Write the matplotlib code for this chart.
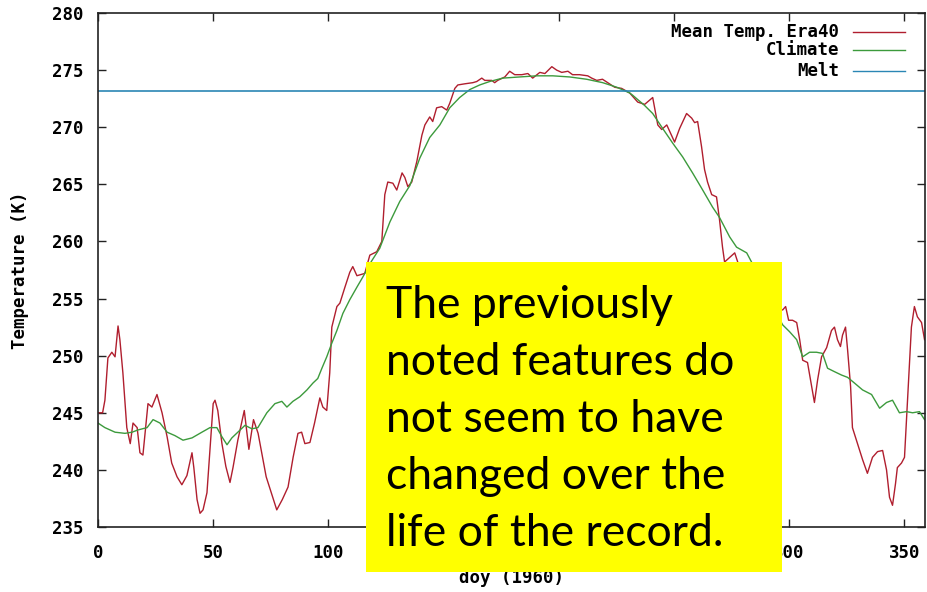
import matplotlib
matplotlib.use("Agg")
import matplotlib.pyplot as plt
from matplotlib.patches import Rectangle
from matplotlib.lines import Line2D

# daily mean temperature (Era40, 1960)
era_doy = [0, 2, 3, 4.3, 6, 7.4, 8.7, 9.5, 10.8, 12.5, 14, 15.2, 17, 18.2, 19.5, 21.7, 23.4, 25.6,
           27.8, 30, 32, 34.3, 36.4, 38.6, 40.8, 41.6, 43, 44.3, 45.6, 47.3, 48.6, 50, 50.8, 52,
           53.8, 55.5, 57.3, 58.6, 60.7, 63.5, 65.5, 67.5, 69.5, 73, 77.6, 80, 82.5, 84.7, 86.8,
           88.4, 89.8, 92, 94, 96.3, 97.6, 99.3, 100.6, 101.5, 103.7, 105, 107.2, 109.3, 110.6,
           112.4, 115.8, 118, 121, 123.2, 124.5, 125.8, 128, 129.7, 132, 133.2, 134.5, 136.2,
           138.4, 140.6, 141.9, 144, 145.3, 147, 149.2, 151.4, 152.7, 154.9, 156.2, 159.2, 162.7,
           164.4, 166.6, 167.9, 170.9, 172.2, 173.5, 176.6, 178.7, 180.9, 184, 186.6, 188.7,
           191.8, 194, 197, 199.1, 201.3, 204, 206, 209, 212.6, 214.3, 216.5, 219, 221.3, 224.3,
           227.3, 230.8, 234.3, 237.3, 240.8, 243, 244.7, 246.9, 250.3, 252.5, 255.5, 257.7, 259,
           260.3, 262, 263.3, 264.6, 266.4, 268.5, 269.8, 271.1, 272, 276.4, 277.7, 282, 287, 292,
           297.2, 298.5, 299.8, 301.5, 303.3, 304.6, 305.9, 308, 309.8, 311, 312.4, 314.1, 316.3,
           318.4, 319.7, 321, 322.3, 323.2, 324.5, 325.4, 326.7, 327.5, 329.7, 331.9, 334, 336.2,
           338.4, 340.6, 342.3, 343.6, 344.9, 346.2, 347, 348.8, 350.1, 351.4, 353.1, 354.4,
           355.7, 357.5, 358.8]
era_temp = [245.0, 245.0, 246.1, 249.8, 250.3, 249.9, 252.6, 251.4, 248.5, 243.7, 242.3, 244.1,
            243.7, 241.5, 241.3, 245.8, 245.5, 246.6, 245.0, 242.9, 240.6, 239.4, 238.7, 239.5,
            241.5, 240.2, 237.4, 236.2, 236.5, 238.0, 241.7, 245.8, 246.1, 245.2, 242.3, 240.3,
            238.9, 240.2, 242.6, 245.2, 241.8, 244.4, 243.2, 239.4, 236.5, 237.4, 238.5, 241.1,
            243.2, 243.3, 242.3, 242.4, 244.1, 246.3, 245.5, 245.2, 248.5, 252.5, 254.3, 254.6,
            256.0, 257.3, 257.8, 257.0, 257.2, 258.8, 259.1, 260.0, 264.1, 265.2, 265.1, 264.5,
            266.0, 265.6, 264.8, 265.2, 267.0, 269.3, 270.2, 270.9, 270.5, 271.7, 271.8, 271.5,
            272.1, 273.4, 273.7, 273.8, 273.9, 274.0, 274.3, 274.1, 274.1, 273.9, 274.1, 274.4,
            274.9, 274.6, 274.6, 274.7, 274.3, 274.8, 274.7, 275.3, 275.0, 274.8, 274.9, 274.6,
            274.6, 274.5, 274.3, 274.1, 274.2, 273.9, 273.5, 273.4, 273.0, 272.2, 272.0, 272.6,
            270.2, 269.8, 270.2, 268.7, 269.9, 271.2, 270.8, 270.4, 270.5, 268.3, 266.3, 265.2,
            264.1, 263.9, 261.9, 259.5, 258.2, 259.0, 258.2, 256.5, 255.0, 254.2, 254.0, 254.3,
            253.1, 253.1, 252.9, 251.4, 249.6, 249.4, 247.3, 245.9, 247.9, 249.9, 250.7, 252.2,
            252.5, 251.4, 250.8, 251.8, 252.5, 250.5, 247.3, 243.7, 242.3, 240.9, 239.7, 241.1,
            241.6, 241.7, 240.0, 237.6, 236.9, 238.8, 240.2, 240.6, 241.1, 246.1, 252.5, 254.3,
            253.4, 252.9, 251.4]

# climatology
clim_doy = [0, 3, 7.4, 11.7, 14.8, 17.4, 21.3, 23.9, 26.9, 30, 33.4, 36.9, 40.8, 45.1, 48.6, 51.6,
            53.8, 56, 58.1, 60.7, 63.8, 66.8, 69.4, 73.3, 76.8, 79.8, 82, 84.6, 87.6, 90.7, 93.3,
            95.4, 97.2, 99.3, 101.5, 103.7, 106.3, 109.3, 112.4, 115, 118.5, 122.3, 126.7, 131,
            135.4, 139.7, 144, 148.4, 152.7, 157, 161.4, 165.7, 170, 175.7, 183, 190.5, 197.4,
            204.8, 212.1, 219.1, 225.2, 230.8, 232.1, 237.3, 240.8, 245.1, 249.5, 253.8, 258.1,
            262.5, 266.8, 269.8, 274.2, 277.2, 281.6, 283.7, 290, 297.2, 300.2, 303.3, 305.9,
            308.9, 311.9, 314.5, 316.7, 319.7, 322.8, 325.4, 328.4, 331.9, 335.8, 339.3, 342.3,
            344.9, 347.9, 351, 353.6, 356.6, 358.8]
clim_temp = [244.1, 243.7, 243.3, 243.2, 243.3, 243.5, 243.7, 244.4, 244.1, 243.3, 243.0, 242.6,
             242.8, 243.3, 243.7, 243.7, 242.9, 242.2, 242.8, 243.3, 243.9, 243.6, 243.7, 245.0,
             245.8, 246.0, 245.5, 246.0, 246.4, 247.0, 247.6, 248.0, 248.9, 249.9, 251.1, 252.2,
             253.7, 254.9, 256.0, 256.9, 258.2, 259.4, 261.7, 263.5, 264.9, 267.3, 269.1, 270.2,
             271.7, 272.6, 273.3, 273.7, 274.0, 274.3, 274.4, 274.5, 274.5, 274.4, 274.2, 273.9,
             273.5, 273.0, 272.8, 271.9, 271.2, 269.9, 268.6, 267.4, 266.0, 264.5, 263.0, 262.1,
             260.4, 259.5, 259.0, 258.2, 255.5, 252.7, 252.1, 251.4, 249.9, 250.3, 250.3, 250.2,
             248.9, 248.6, 248.3, 248.1, 247.6, 247.0, 246.6, 245.4, 245.9, 246.1, 245.0, 245.1,
             245.0, 245.1, 244.4]

melt_temp = 273.15

series_labels = ["Mean Temp. Era40", "Climate", "Melt"]
series_colors = ["#b01e2e", "#3c9a3c", "#2a86b4"]

x_ticks = [0, 50, 100, 150, 200, 250, 300, 350]
y_ticks = [235, 240, 245, 250, 255, 260, 265, 270, 275, 280]

note_lines = ["The previously", "noted features do", "not seem to have",
              "changed over the", "life of the record."]

mono = {"family": "DejaVu Sans Mono", "weight": "bold", "size": 12.5}

fig = plt.figure(figsize=(9.28, 5.92), dpi=100)
ax = fig.add_axes([98 / 928, 1 - 527 / 592, 827 / 928, 514 / 592])

ax.plot(era_doy, era_temp, color=series_colors[0], lw=1.0)
ax.plot(clim_doy, clim_temp, color=series_colors[1], lw=1.0)
ax.axhline(melt_temp, color=series_colors[2], lw=1.2)

ax.set_xlim(0, 359)
ax.set_ylim(235, 280)
ax.set_xticks(x_ticks)
ax.set_yticks(y_ticks)
ax.tick_params(direction="in", length=6, width=1, top=True, right=True, colors="#222222")
ax.tick_params(axis="x", pad=12)
ax.tick_params(axis="y", pad=10.5)
for lab in ax.get_xticklabels() + ax.get_yticklabels():
    lab.set_fontproperties(mono)
    lab.set_color("black")
for sp in ax.spines.values():
    sp.set_linewidth(1.2)
    sp.set_color("#222222")

ax.set_xlabel("doy (1960)", fontdict=mono, va="center")
ax.xaxis.set_label_coords(0.5, -(578 - 527) / 514)
ax.set_ylabel("Temperature (K)", fontdict=mono, va="center")
ax.yaxis.set_label_coords(-(98 - 20) / 827, 0.5)

# gnuplot-style key, right aligned text with sample lines
key_rows = [0.963, 0.928, 0.887]
for lab, col, yk in zip(series_labels, series_colors, key_rows):
    ax.text(0.896, yk, lab, transform=ax.transAxes, ha="right", va="center", fontdict=mono)
    ax.add_line(Line2D([0.913, 0.976], [yk, yk], transform=ax.transAxes, color=col, lw=1.0))

# yellow annotation box laid over the plot
fig.add_artist(Rectangle((366 / 928, 1 - 572 / 592), (782 - 366) / 928, (572 - 262) / 592,
                         transform=fig.transFigure, facecolor="#ffff00", edgecolor="none",
                         zorder=10))
for i, line in enumerate(note_lines):
    fig.text(386 / 928, 1 - (318 + 57 * i) / 592, line, family="Lato", fontsize=32,
             va="baseline", ha="left", color="black", zorder=11)

fig.savefig("out.png", dpi=100)
